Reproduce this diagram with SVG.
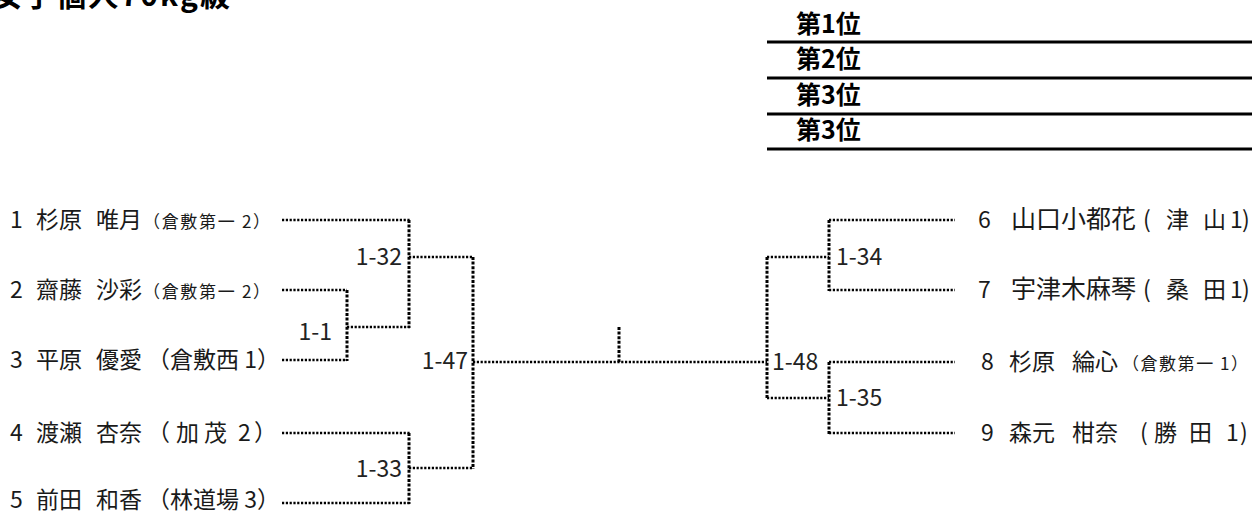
<svg xmlns="http://www.w3.org/2000/svg" width="1252" height="515" viewBox="0 0 1252 515">
<style>
text{font-family:"Noto Sans CJK JP","Noto Sans",sans-serif;fill:#1a1a1a}
.title{font-size:30px;font-weight:bold;fill:#000}
.rank{font-size:25px;font-weight:bold;fill:#000}
.nm{font-size:23px}
.nw{font-size:25px}
.sm{font-size:17px}
.lb{font-size:23px;fill:#222}
.rl{stroke:#000;stroke-width:3;fill:none}
.h{stroke:#000;stroke-width:2.5;stroke-dasharray:2.2 1.6;fill:none}
.v{stroke:#000;stroke-width:3;stroke-dasharray:3 1.6;fill:none}
</style>
<rect width="1252" height="515" fill="#fff"/>
<g id="title"><text class="title" x="-8" y="6" textLength="238" lengthAdjust="spacing">女子個人70kg級</text></g>
<g id="ranking">
<text class="rank" x="796" y="33">第1位</text>
<text class="rank" x="796" y="68">第2位</text>
<text class="rank" x="796" y="104">第3位</text>
<text class="rank" x="796" y="139">第3位</text>
<line class="rl" x1="767" y1="42" x2="1252" y2="42"/>
<line class="rl" x1="767" y1="78" x2="1252" y2="78"/>
<line class="rl" x1="767" y1="114" x2="1252" y2="114"/>
<line class="rl" x1="767" y1="149" x2="1252" y2="149"/>
</g>
<g id="p1"><text class="nm" y="228"><tspan x="10">1</tspan><tspan x="36">杉原</tspan><tspan x="96">唯月</tspan><tspan class="sm" x="143" textLength="127" lengthAdjust="spacing">（倉敷第一 2）</tspan></text></g>
<g id="p2"><text class="nm" y="298"><tspan x="10">2</tspan><tspan x="36">齋藤</tspan><tspan x="96">沙彩</tspan><tspan class="sm" x="143" textLength="127" lengthAdjust="spacing">（倉敷第一 2）</tspan></text></g>
<g id="p3"><text class="nm" y="368"><tspan x="10">3</tspan><tspan x="36">平原</tspan><tspan x="96">優愛</tspan><tspan x="147">（倉敷西 1）</tspan></text></g>
<g id="p4"><text class="nm" y="441"><tspan x="10">4</tspan><tspan x="36">渡瀬</tspan><tspan x="96">杏奈</tspan><tspan x="147">（</tspan><tspan x="176">加</tspan><tspan x="204">茂</tspan><tspan x="238">2</tspan><tspan x="254">）</tspan></text></g>
<g id="p5"><text class="nm" y="508"><tspan x="10">5</tspan><tspan x="36">前田</tspan><tspan x="96">和香</tspan><tspan x="147">（林道場 3）</tspan></text></g>
<g id="p6"><text class="nm" y="228"><tspan x="978">6</tspan><tspan class="nw" x="1011">山口小都花</tspan><tspan x="1143">(</tspan><tspan x="1166">津</tspan><tspan x="1203">山</tspan><tspan x="1230">1</tspan><tspan x="1242">)</tspan></text></g>
<g id="p7"><text class="nm" y="298"><tspan x="978">7</tspan><tspan class="nw" x="1011">宇津木麻琴</tspan><tspan x="1143">(</tspan><tspan x="1166">桑</tspan><tspan x="1203">田</tspan><tspan x="1230">1</tspan><tspan x="1242">)</tspan></text></g>
<g id="p8"><text class="nm" y="370"><tspan x="981">8</tspan><tspan x="1009">杉原</tspan><tspan x="1072">綸心</tspan><tspan class="sm" x="1122" textLength="126" lengthAdjust="spacing">（倉敷第一 1）</tspan></text></g>
<g id="p9"><text class="nm" y="441"><tspan x="981">9</tspan><tspan x="1009">森元</tspan><tspan x="1072">柑奈</tspan><tspan x="1140">(</tspan><tspan x="1154">勝</tspan><tspan x="1189">田</tspan><tspan x="1226">1</tspan><tspan x="1240">)</tspan></text></g>
<g id="labels">
<text class="lb" x="402" y="265" text-anchor="end">1-32</text>
<text class="lb" x="332" y="340" text-anchor="end">1-1</text>
<text class="lb" x="468" y="369" text-anchor="end">1-47</text>
<text class="lb" x="402" y="477" text-anchor="end">1-33</text>
<text class="lb" x="836" y="265">1-34</text>
<text class="lb" x="772" y="370">1-48</text>
<text class="lb" x="836" y="406">1-35</text>
</g>
<g id="connectors">
<path class="h" d="M282 220H410M282 290H347M282 360H347M347 327H410M409 257H473M282 433H410M282 503H410M409 468H473M473 362H767M767 257H829M767 398H829M829 220H955M829 290H955M829 362H955M829 433H955"/>
<path class="v" d="M347 290V361M409 220V328M409 433V504M473 257V469M619 327V362M767 257V399M829 220V291M829 362V434"/>
</g>
</svg>
